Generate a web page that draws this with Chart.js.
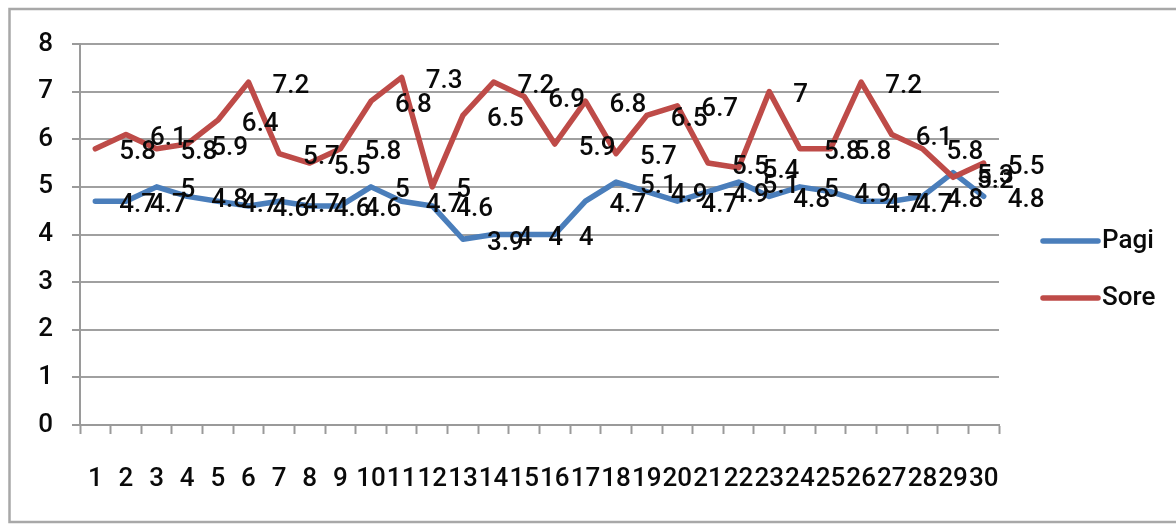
<!DOCTYPE html>
<html>
<head>
<meta charset="utf-8">
<style>
  html, body { margin: 0; padding: 0; background: #ffffff; }
  #wrap { width: 1176px; height: 524px; position: relative; }
</style>
<script src="https://cdn.jsdelivr.net/npm/chart.js@4/dist/chart.umd.min.js"></script>
</head>
<body>
<div id="wrap"><canvas id="c" width="1176" height="524"></canvas></div>
<script>
// Days of observation (category axis)
const days = ['1','2','3','4','5','6','7','8','9','10','11','12','13','14','15',
              '16','17','18','19','20','21','22','23','24','25','26','27','28','29','30'];

// Morning readings
const pagi = [4.7, 4.7, 5, 4.8, 4.7, 4.6, 4.7, 4.6, 4.6, 5, 4.7, 4.6, 3.9, 4, 4,
              4, 4.7, 5.1, 4.9, 4.7, 4.9, 5.1, 4.8, 5, 4.9, 4.7, 4.7, 4.8, 5.3, 4.8];

// Afternoon readings
const sore = [5.8, 6.1, 5.8, 5.9, 6.4, 7.2, 5.7, 5.5, 5.8, 6.8, 7.3, 5, 6.5, 7.2, 6.9,
              5.9, 6.8, 5.7, 6.5, 6.7, 5.5, 5.4, 7, 5.8, 5.8, 7.2, 6.1, 5.8, 5.2, 5.5];

const seriesNames = ['Pagi', 'Sore'];
const seriesColors = ['#4a7ebb', '#be4b48'];

const FONT = 'Roboto, "Liberation Sans", sans-serif';
const FONT_SIZE = 26;
const FONT_WEIGHT = '500';
const TEXT_COLOR = '#0a0a0a';

// Outer frame around the whole chart
const framePlugin = {
  id: 'frame',
  beforeDraw(chart) {
    const ctx = chart.ctx;
    ctx.save();
    ctx.fillStyle = '#ffffff';
    ctx.fillRect(0, 0, chart.width, chart.height);
    ctx.strokeStyle = '#a8a8a8';
    ctx.lineWidth = 2.5;
    ctx.strokeRect(9.5, 9, chart.width + 20, 513);
    ctx.restore();
  }
};

// Value labels placed to the right of every point
const valueLabels = {
  id: 'valueLabels',
  afterDatasetsDraw(chart) {
    const ctx = chart.ctx;
    ctx.save();
    ctx.font = FONT_WEIGHT + ' ' + FONT_SIZE + 'px ' + FONT;
    ctx.fillStyle = TEXT_COLOR;
    ctx.textAlign = 'left';
    ctx.textBaseline = 'middle';
    chart.data.datasets.forEach((ds, di) => {
      const meta = chart.getDatasetMeta(di);
      meta.data.forEach((pt, i) => {
        ctx.fillText(String(ds.data[i]), pt.x + 24, pt.y + 4);
      });
    });
    ctx.restore();
  }
};

// Legend drawn as line samples on the right side
const sideLegend = {
  id: 'sideLegend',
  afterDraw(chart) {
    const ctx = chart.ctx;
    ctx.save();
    ctx.font = FONT_WEIGHT + ' ' + FONT_SIZE + 'px ' + FONT;
    ctx.textAlign = 'left';
    ctx.textBaseline = 'middle';
    chart.data.datasets.forEach((ds, di) => {
      const y = 241 + di * 57;
      ctx.strokeStyle = ds.borderColor;
      ctx.lineWidth = 5.5;
      ctx.lineCap = 'round';
      ctx.beginPath();
      ctx.moveTo(1043, y);
      ctx.lineTo(1098, y);
      ctx.stroke();
      ctx.fillStyle = TEXT_COLOR;
      ctx.fillText(ds.label, 1102, y);
    });
    ctx.restore();
  }
};

Chart.defaults.font.family = FONT;
Chart.defaults.font.size = FONT_SIZE;
Chart.defaults.font.weight = FONT_WEIGHT;
Chart.defaults.color = TEXT_COLOR;

new Chart(document.getElementById('c'), {
  type: 'line',
  data: {
    labels: days,
    datasets: [
      {
        label: seriesNames[0],
        data: pagi,
        borderColor: seriesColors[0],
        backgroundColor: seriesColors[0],
        borderWidth: 5.5,
        pointRadius: 0,
        tension: 0,
        borderJoinStyle: 'round',
        borderCapStyle: 'round',
        order: 1
      },
      {
        label: seriesNames[1],
        data: sore,
        borderColor: seriesColors[1],
        backgroundColor: seriesColors[1],
        borderWidth: 5.5,
        pointRadius: 0,
        tension: 0,
        borderJoinStyle: 'round',
        borderCapStyle: 'round',
        order: 0
      }
    ]
  },
  options: {
    responsive: false,
    animation: false,
    devicePixelRatio: 1,
    layout: { padding: { left: 0, top: 44, right: 177, bottom: 0 } },
    plugins: {
      legend: { display: false },
      tooltip: { enabled: false }
    },
    scales: {
      x: {
        type: 'category',
        offset: true,
        afterFit(s) { s.height = 99; },
        grid: {
          offset: true,
          drawOnChartArea: false,
          drawTicks: true,
          tickLength: 9,
          tickWidth: 2,
          tickColor: '#9a9a9a'
        },
        border: { display: true, color: '#9a9a9a', width: 2 },
        ticks: {
          maxRotation: 0,
          autoSkip: false,
          padding: 30,
          color: TEXT_COLOR
        }
      },
      y: {
        min: 0,
        max: 8,
        afterFit(s) { s.width = 80; },
        grid: {
          color: '#a0a0a0',
          lineWidth: 2,
          drawTicks: true,
          tickLength: 8,
          tickColor: '#9a9a9a'
        },
        border: { display: true, color: '#9a9a9a', width: 2 },
        ticks: {
          stepSize: 1,
          padding: 19,
          color: TEXT_COLOR
        }
      }
    }
  },
  plugins: [framePlugin, valueLabels, sideLegend]
});
</script>
</body>
</html>
